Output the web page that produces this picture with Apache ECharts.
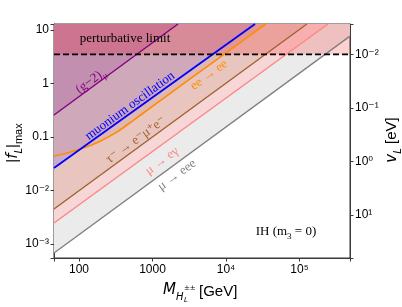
<!DOCTYPE html>
<html><head><meta charset="utf-8">
<script src="https://cdn.jsdelivr.net/npm/echarts@6/dist/echarts.min.js"></script>
<style>html,body{margin:0;padding:0;background:#fff}#c{width:402px;height:307px}</style>
</head><body><div id="c"></div>
<script>
// ---- data (M in GeV, |f_L|max) ----
const massRange = [45.7, 4.86e5];
const fRange = [5.47e-4, 12.94];
const vRange = [2.705e-3, 64];           // v_L [eV] on the right axis (inverted)
const perturbativeLimit = [[45.7, 3.5], [4.86e5, 3.5]];
const muToEEE = [[45.7, 6.8e-4], [4.86e5, 7.7]];
const muToEGamma = [[45.7, 2.47e-3], [2.44e5, 12.94]];
const tauToEMuE = [[45.7, 4.5e-3], [1.26e5, 12.94]];
const eeToEE = [[45.7, 0.044], [75.5, 0.052], [114, 0.062], [193, 0.083], [326, 0.123],
                [548, 0.205], [925, 0.346], [4430, 1.66], [1.02e4, 3.8], [3.47e4, 12.94]];
const muonium = [[45.7, 0.0264], [2.48e4, 12.94]];
const gMinus2 = [[45.7, 0.258], [2222, 12.94]];
// tick labels
const massTickValues = [100, 1000, 1e4, 1e5];
const massTickLabels = ['100', '1000', '10⁴', '10⁵'];
const fTickValues = [1e-3, 1e-2, 0.1, 1, 10];
const fTickLabels = ['10⁻³', '10⁻²', '0.1', '1', '10'];
const vTickValues = [1e-2, 1e-1, 1, 10];
const vTickLabels = ['10⁻²', '10⁻¹', '10⁰', '10¹'];

function lookup(vals, labels) {
  return function (v) {
    for (let i = 0; i < vals.length; i++) {
      if (Math.abs(Math.log10(v) - Math.log10(vals[i])) < 1e-4) return labels[i];
    }
    return '';
  };
}
const sans = '"Liberation Sans", Arial, "DejaVu Sans", sans-serif';
const serif = '"Liberation Serif", "DejaVu Serif", serif';
const frame = '#3a3a3a';

function fill(data, color, z) {
  return {type: 'line', data: data, symbol: 'none', silent: true, z: z || 1,
    lineStyle: {opacity: 0}, areaStyle: {origin: 'end', color: color, opacity: 1}};
}
function line(data, color, width, extra) {
  return Object.assign({type: 'line', data: data, symbol: 'none', silent: true, z: 5,
    lineStyle: {color: color, width: width}}, extra || {});
}
const ang = Math.atan(53.5 / 73.5);
function lbl(x, y, text, color, rich) {
  return {type: 'text', x: x, y: y, rotation: ang, z: 20,
    style: {text: text, fill: color, font: '13px ' + serif, align: 'center', verticalAlign: 'middle', rich: rich}};
}

const chart = echarts.init(document.getElementById('c'));
chart.setOption({
  animation: false,
  grid: {left: 54, right: 52, top: 24, bottom: 49, show: true, borderColor: frame, borderWidth: 1, backgroundColor: '#fff'},
  xAxis: {type: 'log', min: massRange[0], max: massRange[1],
    axisLine: {lineStyle: {color: frame}}, axisTick: {length: 3.5, lineStyle: {color: frame}},
    splitLine: {show: false},
    axisLabel: {margin: 6, color: '#000', fontSize: 12, fontFamily: sans, formatter: lookup(massTickValues, massTickLabels)}},
  yAxis: [
    {type: 'log', min: fRange[0], max: fRange[1],
      axisLine: {show: true, lineStyle: {color: frame}}, axisTick: {show: true, length: 3.5, lineStyle: {color: frame}},
      splitLine: {show: false},
      axisLabel: {margin: 5, color: '#000', fontSize: 12, fontFamily: sans, formatter: lookup(fTickValues, fTickLabels)}},
    {type: 'log', position: 'right', inverse: true, min: vRange[0], max: vRange[1],
      axisLine: {show: true, lineStyle: {color: frame}}, axisTick: {show: true, length: 3.5, lineStyle: {color: frame}},
      splitLine: {show: false},
      axisLabel: {margin: 5, color: '#000', fontSize: 12, fontFamily: sans, formatter: lookup(vTickValues, vTickLabels)}}
  ],
  series: [
    fill(muToEEE, '#ebebeb', 1),
    fill(muToEGamma, '#f6d6d6', 1),
    fill(tauToEMuE, '#e8c6bf', 1),
    fill(muonium, 'rgba(80,60,255,0.2)', 1),
    fill(eeToEE, 'rgba(214,168,167,0.5)', 1),
    fill(gMinus2, 'rgba(128,0,128,0.15)', 1),
    fill(perturbativeLimit, 'rgba(255,0,0,0.18)', 1),
    line(muToEEE, '#808080', 1.4),
    line(muToEGamma, '#ff8585', 1.4),
    line(tauToEMuE, '#a0622d', 1.4),
    line(eeToEE, '#ff8c00', 1.6, {smooth: 0.2}),
    line(muonium, '#0000ff', 1.8),
    line(gMinus2, '#800080', 1.4),
    line(perturbativeLimit, '#000', 1.8, {lineStyle: {color: '#000', width: 1.8, type: [6, 3]}})
  ],
  graphic: [
    {type: 'text', x: 125, y: 39, z: 20, style: {text: 'perturbative limit', fill: '#000', font: '13px ' + serif, align: 'center', verticalAlign: 'middle'}},
    lbl(91, 81, '{a|(g−2)}{s|μ}', '#800080', {a: {fontSize: 13, fontFamily: serif, lineHeight: 18, verticalAlign: 'middle'}, s: {fontSize: 9, fontFamily: serif, lineHeight: 18, verticalAlign: 'bottom'}}),
    lbl(130, 106, 'muonium oscillation', '#0000ff'),
    lbl(209, 75, 'ee → ee', '#ff8c00'),
    lbl(136, 140, 'τ⁻ → e⁻μ⁺e⁻', '#a0622d'),
    lbl(162, 161, 'μ → eγ', '#ff8585'),
    lbl(177, 175, 'μ → eee', '#808080'),
    {type: 'text', x: 286, y: 232, z: 20, style: {text: '{a|IH (m}{s|3}{a| = 0)}', fill: '#000', align: 'center', verticalAlign: 'middle',
      rich: {a: {fontSize: 13, fontFamily: serif, lineHeight: 18, verticalAlign: 'middle'}, s: {fontSize: 9, fontFamily: serif, lineHeight: 18, verticalAlign: 'bottom'}}}},
    {type: 'text', x: 13, y: 143, rotation: Math.PI / 2, z: 20, style: {text: '{a||}{f|f}{s|L}{a||}{m|max}', fill: '#000', align: 'center', verticalAlign: 'middle',
      rich: {a: {fontSize: 15, fontFamily: sans, lineHeight: 22, verticalAlign: 'middle'},
             f: {fontSize: 15, fontFamily: '"DejaVu Sans"', fontStyle: 'italic', lineHeight: 22, verticalAlign: 'middle'},
             s: {fontSize: 10, fontFamily: '"DejaVu Sans"', fontStyle: 'italic', lineHeight: 22, verticalAlign: 'bottom'},
             m: {fontSize: 11, fontFamily: sans, lineHeight: 22, verticalAlign: 'bottom'}}}},
    {type: 'text', x: 392, y: 140, rotation: Math.PI / 2, z: 20, style: {text: '{v|v}{s|L}{a| [eV]}', fill: '#000', align: 'center', verticalAlign: 'middle',
      rich: {a: {fontSize: 15, fontFamily: sans, lineHeight: 22, verticalAlign: 'middle'},
             v: {fontSize: 15, fontFamily: '"DejaVu Sans"', fontStyle: 'italic', lineHeight: 22, verticalAlign: 'middle'},
             s: {fontSize: 10, fontFamily: '"DejaVu Sans"', fontStyle: 'italic', lineHeight: 22, verticalAlign: 'bottom'}}}},
    {type: 'text', x: 163, y: 298, z: 20, style: {text: 'M', fill: '#000', font: 'italic 15px "DejaVu Sans"', align: 'left', verticalAlign: 'bottom'}},
    {type: 'text', x: 176, y: 302, z: 20, style: {text: 'H', fill: '#000', font: 'italic 10px "DejaVu Sans"', align: 'left', verticalAlign: 'bottom'}},
    {type: 'text', x: 184, y: 292, z: 20, style: {text: '±±', fill: '#000', font: '7px "DejaVu Sans"', align: 'left', verticalAlign: 'bottom'}},
    {type: 'text', x: 184, y: 304, z: 20, style: {text: 'L', fill: '#000', font: 'italic 7px "DejaVu Sans"', align: 'left', verticalAlign: 'bottom'}},
    {type: 'text', x: 199, y: 299, z: 20, style: {text: '[GeV]', fill: '#000', font: '15px ' + sans, align: 'left', verticalAlign: 'bottom'}}
  ]
});
</script></body></html>
